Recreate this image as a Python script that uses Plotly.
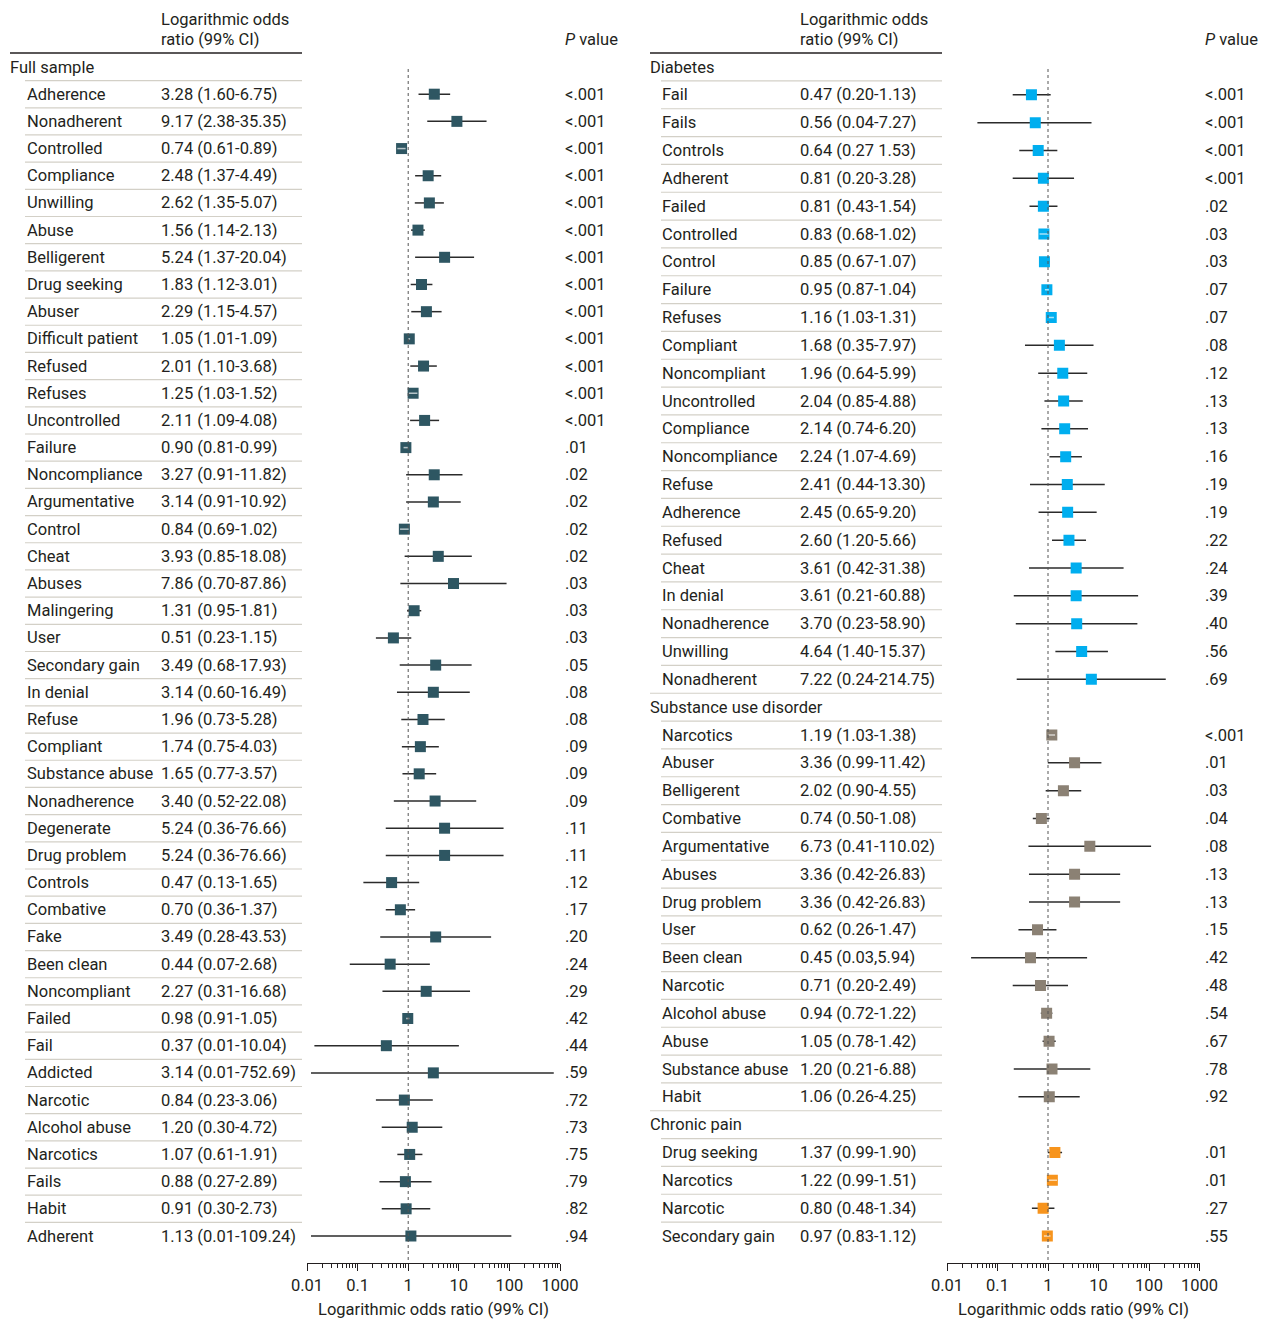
import math
import plotly.graph_objects as go

W, H = 1267, 1319
FONT = "Roboto"
FS = 16.5
TXT = "#231f20"

# ---------------- data ----------------
left_group = "Full sample"
left_labels = ["Adherence", "Nonadherent", "Controlled", "Compliance", "Unwilling", "Abuse", "Belligerent",
               "Drug seeking", "Abuser", "Difficult patient", "Refused", "Refuses", "Uncontrolled", "Failure",
               "Noncompliance", "Argumentative", "Control", "Cheat", "Abuses", "Malingering", "User",
               "Secondary gain", "In denial", "Refuse", "Compliant", "Substance abuse", "Nonadherence",
               "Degenerate", "Drug problem", "Controls", "Combative", "Fake", "Been clean", "Noncompliant",
               "Failed", "Fail", "Addicted", "Narcotic", "Alcohol abuse", "Narcotics", "Fails", "Habit", "Adherent"]
left_or = [3.28, 9.17, 0.74, 2.48, 2.62, 1.56, 5.24, 1.83, 2.29, 1.05, 2.01, 1.25, 2.11, 0.90, 3.27, 3.14, 0.84,
           3.93, 7.86, 1.31, 0.51, 3.49, 3.14, 1.96, 1.74, 1.65, 3.40, 5.24, 5.24, 0.47, 0.70, 3.49, 0.44, 2.27,
           0.98, 0.37, 3.14, 0.84, 1.20, 1.07, 0.88, 0.91, 1.13]
left_lo = [1.60, 2.38, 0.61, 1.37, 1.35, 1.14, 1.37, 1.12, 1.15, 1.01, 1.10, 1.03, 1.09, 0.81, 0.91, 0.91, 0.69,
           0.85, 0.70, 0.95, 0.23, 0.68, 0.60, 0.73, 0.75, 0.77, 0.52, 0.36, 0.36, 0.13, 0.36, 0.28, 0.07, 0.31,
           0.91, 0.014, 0.012, 0.23, 0.30, 0.61, 0.27, 0.30, 0.012]
left_hi = [6.75, 35.35, 0.89, 4.49, 5.07, 2.13, 20.04, 3.01, 4.57, 1.09, 3.68, 1.52, 4.08, 0.99, 11.82, 10.92, 1.02,
           18.08, 87.86, 1.81, 1.15, 17.93, 16.49, 5.28, 4.03, 3.57, 22.08, 76.66, 76.66, 1.65, 1.37, 43.53, 2.68,
           16.68, 1.05, 10.04, 752.69, 3.06, 4.72, 1.91, 2.89, 2.73, 109.24]
left_ci_text = ["3.28 (1.60-6.75)", "9.17 (2.38-35.35)", "0.74 (0.61-0.89)", "2.48 (1.37-4.49)", "2.62 (1.35-5.07)",
                "1.56 (1.14-2.13)", "5.24 (1.37-20.04)", "1.83 (1.12-3.01)", "2.29 (1.15-4.57)", "1.05 (1.01-1.09)",
                "2.01 (1.10-3.68)", "1.25 (1.03-1.52)", "2.11 (1.09-4.08)", "0.90 (0.81-0.99)", "3.27 (0.91-11.82)",
                "3.14 (0.91-10.92)", "0.84 (0.69-1.02)", "3.93 (0.85-18.08)", "7.86 (0.70-87.86)", "1.31 (0.95-1.81)",
                "0.51 (0.23-1.15)", "3.49 (0.68-17.93)", "3.14 (0.60-16.49)", "1.96 (0.73-5.28)", "1.74 (0.75-4.03)",
                "1.65 (0.77-3.57)", "3.40 (0.52-22.08)", "5.24 (0.36-76.66)", "5.24 (0.36-76.66)", "0.47 (0.13-1.65)",
                "0.70 (0.36-1.37)", "3.49 (0.28-43.53)", "0.44 (0.07-2.68)", "2.27 (0.31-16.68)", "0.98 (0.91-1.05)",
                "0.37 (0.01-10.04)", "3.14 (0.01-752.69)", "0.84 (0.23-3.06)", "1.20 (0.30-4.72)", "1.07 (0.61-1.91)",
                "0.88 (0.27-2.89)", "0.91 (0.30-2.73)", "1.13 (0.01-109.24)"]
left_p = ["<.001"] * 13 + [".01", ".02", ".02", ".02", ".02", ".03", ".03", ".03", ".05", ".08", ".08", ".09",
                           ".09", ".09", ".11", ".11", ".12", ".17", ".20", ".24", ".29", ".42", ".44", ".59",
                           ".72", ".73", ".75", ".79", ".82", ".94"]

right_groups = ["Diabetes", "Substance use disorder", "Chronic pain"]
right_colors = ["#00aeef", "#8b8174", "#f7941d"]

diab_labels = ["Fail", "Fails", "Controls", "Adherent", "Failed", "Controlled", "Control", "Failure", "Refuses",
               "Compliant", "Noncompliant", "Uncontrolled", "Compliance", "Noncompliance", "Refuse", "Adherence",
               "Refused", "Cheat", "In denial", "Nonadherence", "Unwilling", "Nonadherent"]
diab_or = [0.47, 0.56, 0.64, 0.81, 0.81, 0.83, 0.85, 0.95, 1.16, 1.68, 1.96, 2.04, 2.14, 2.24, 2.41, 2.45, 2.60,
           3.61, 3.61, 3.70, 4.64, 7.22]
diab_lo = [0.20, 0.04, 0.27, 0.20, 0.43, 0.68, 0.67, 0.87, 1.03, 0.35, 0.64, 0.85, 0.74, 1.07, 0.44, 0.65, 1.20,
           0.42, 0.21, 0.23, 1.40, 0.24]
diab_hi = [1.13, 7.27, 1.53, 3.28, 1.54, 1.02, 1.07, 1.04, 1.31, 7.97, 5.99, 4.88, 6.20, 4.69, 13.30, 9.20, 5.66,
           31.38, 60.88, 58.90, 15.37, 214.75]
diab_ci_text = ["0.47 (0.20-1.13)", "0.56 (0.04-7.27)", "0.64 (0.27 1.53)", "0.81 (0.20-3.28)", "0.81 (0.43-1.54)",
                "0.83 (0.68-1.02)", "0.85 (0.67-1.07)", "0.95 (0.87-1.04)", "1.16 (1.03-1.31)", "1.68 (0.35-7.97)",
                "1.96 (0.64-5.99)", "2.04 (0.85-4.88)", "2.14 (0.74-6.20)", "2.24 (1.07-4.69)", "2.41 (0.44-13.30)",
                "2.45 (0.65-9.20)", "2.60 (1.20-5.66)", "3.61 (0.42-31.38)", "3.61 (0.21-60.88)",
                "3.70 (0.23-58.90)", "4.64 (1.40-15.37)", "7.22 (0.24-214.75)"]
diab_p = ["<.001", "<.001", "<.001", "<.001", ".02", ".03", ".03", ".07", ".07", ".08", ".12", ".13", ".13", ".16",
          ".19", ".19", ".22", ".24", ".39", ".40", ".56", ".69"]

sud_labels = ["Narcotics", "Abuser", "Belligerent", "Combative", "Argumentative", "Abuses", "Drug problem", "User",
              "Been clean", "Narcotic", "Alcohol abuse", "Abuse", "Substance abuse", "Habit"]
sud_or = [1.19, 3.36, 2.02, 0.74, 6.73, 3.36, 3.36, 0.62, 0.45, 0.71, 0.94, 1.05, 1.20, 1.06]
sud_lo = [1.03, 0.99, 0.90, 0.50, 0.41, 0.42, 0.42, 0.26, 0.03, 0.20, 0.72, 0.78, 0.21, 0.26]
sud_hi = [1.38, 11.42, 4.55, 1.08, 110.02, 26.83, 26.83, 1.47, 5.94, 2.49, 1.22, 1.42, 6.88, 4.25]
sud_ci_text = ["1.19 (1.03-1.38)", "3.36 (0.99-11.42)", "2.02 (0.90-4.55)", "0.74 (0.50-1.08)",
               "6.73 (0.41-110.02)", "3.36 (0.42-26.83)", "3.36 (0.42-26.83)", "0.62 (0.26-1.47)",
               "0.45 (0.03,5.94)", "0.71 (0.20-2.49)", "0.94 (0.72-1.22)", "1.05 (0.78-1.42)",
               "1.20 (0.21-6.88)", "1.06 (0.26-4.25)"]
sud_p = ["<.001", ".01", ".03", ".04", ".08", ".13", ".13", ".15", ".42", ".48", ".54", ".67", ".78", ".92"]

cp_labels = ["Drug seeking", "Narcotics", "Narcotic", "Secondary gain"]
cp_or = [1.37, 1.22, 0.80, 0.97]
cp_lo = [0.99, 0.99, 0.48, 0.83]
cp_hi = [1.90, 1.51, 1.34, 1.12]
cp_ci_text = ["1.37 (0.99-1.90)", "1.22 (0.99-1.51)", "0.80 (0.48-1.34)", "0.97 (0.83-1.12)"]
cp_p = [".01", ".01", ".27", ".55"]

tick_vals = [0.01, 0.1, 1, 10, 100, 1000]
tick_text = ["0.01", "0.1", "1", "10", "100", "1000"]
axis_title = "Logarithmic odds ratio (99% CI)"
col_header = ["Logarithmic odds", "ratio (99% CI)"]
p_header = "<i>P</i> value"

# ---------------- layout helpers ----------------
def px(x):
    return x / W

def py(y):
    return 1 - y / H

TOP_ROW, LAST_ROW = 67, 1236
AX_TOP, AX_BOT = 69, 1263
ydom = [py(AX_BOT), 1.0]
TX_OFF = -2  # annotation inner padding compensation

fig = go.Figure()
annotations = []
shapes = []

panels = [
    dict(xa="x", ya="y", xdom=[px(307), px(560)],
         x_group=10, x_item=27, x_ci=161, x_p=565, line_x0=25, line_x1=302,
         groups=[(left_group, "#2e5662", left_labels, left_or, left_lo, left_hi, left_ci_text, left_p)]),
    dict(xa="x2", ya="y2", xdom=[px(947), px(1199.5)],
         x_group=650, x_item=662, x_ci=800, x_p=1205, line_x0=661, line_x1=942,
         groups=[(right_groups[0], right_colors[0], diab_labels, diab_or, diab_lo, diab_hi, diab_ci_text, diab_p),
                 (right_groups[1], right_colors[1], sud_labels, sud_or, sud_lo, sud_hi, sud_ci_text, sud_p),
                 (right_groups[2], right_colors[2], cp_labels, cp_or, cp_lo, cp_hi, cp_ci_text, cp_p)]),
]

MARKER = 11
PX_PER_DEC = 50.6

def tfont():
    return dict(family=FONT, size=FS, color=TXT)

def tx(x):
    return px(x + TX_OFF)

for pi, P in enumerate(panels):
    nrows = sum(1 + len(g[2]) for g in P["groups"])
    pitch = (LAST_ROW - TOP_ROW) / (nrows - 1)
    yr = [(AX_BOT - TOP_ROW) / pitch, (0 - TOP_ROW) / pitch]
    row = 0
    header_rows = []
    for (gname, color, labels, ors, los, his, cis, ps) in P["groups"]:
        header_rows.append(row)
        annotations.append(dict(x=tx(P["x_group"]), y=row, xref="paper", yref=P["ya"], text=gname,
                                showarrow=False, xanchor="left", yanchor="middle", font=tfont()))
        row += 1
        ys = list(range(row, row + len(labels)))
        lx, ly, wx, wy = [], [], [], []
        for o, lo, hi, yv in zip(ors, los, his, ys):
            lx += [lo, hi, None]
            ly += [yv, yv, None]
            if math.log10(hi / lo) * PX_PER_DEC < MARKER - 1:
                wx += [lo, hi, None]
                wy += [yv, yv, None]
        fig.add_trace(go.Scatter(x=lx, y=ly, mode="lines", xaxis=P["xa"], yaxis=P["ya"],
                                 line=dict(color="#2b2b2b", width=1.5), hoverinfo="skip", showlegend=False))
        fig.add_trace(go.Scatter(x=ors, y=ys, mode="markers", xaxis=P["xa"], yaxis=P["ya"],
                                 marker=dict(symbol="square", size=MARKER, color=color, line=dict(width=0)),
                                 showlegend=False))
        if wx:
            fig.add_trace(go.Scatter(x=wx, y=wy, mode="lines", xaxis=P["xa"], yaxis=P["ya"],
                                     line=dict(color="rgba(255,255,255,0.65)", width=1.5), hoverinfo="skip",
                                     showlegend=False))
        for lab, ci, pv, yv in zip(labels, cis, ps, ys):
            for xx, t in ((P["x_item"], lab), (P["x_ci"], ci), (P["x_p"], pv)):
                annotations.append(dict(x=tx(xx), y=yv, xref="paper", yref=P["ya"], text=t,
                                        showarrow=False, xanchor="left", yanchor="middle", font=tfont()))
        row += len(labels)
    # separators
    for r in range(nrows - 1):
        x0 = P["x_group"] if (r + 1) in header_rows else P["line_x0"]
        shapes.append(dict(type="line", xref="paper", yref=P["ya"], x0=px(x0), x1=px(P["line_x1"]),
                           y0=r + 0.5, y1=r + 0.5, line=dict(color="#d3d0c7", width=1.2)))
    # header
    annotations.append(dict(x=tx(P["x_ci"]), y=py(19), xref="paper", yref="paper", text=col_header[0],
                            showarrow=False, xanchor="left", yanchor="middle", font=tfont()))
    annotations.append(dict(x=tx(P["x_ci"]), y=py(40), xref="paper", yref="paper", text=col_header[1],
                            showarrow=False, xanchor="left", yanchor="middle", font=tfont()))
    annotations.append(dict(x=tx(P["x_p"]), y=py(40), xref="paper", yref="paper", text=p_header,
                            showarrow=False, xanchor="left", yanchor="middle", font=tfont()))
    shapes.append(dict(type="line", xref="paper", yref="paper", x0=px(P["x_group"]), x1=px(P["line_x1"]),
                       y0=py(53), y1=py(53), line=dict(color="#231f20", width=1.5)))
    # reference line at 1
    shapes.append(dict(type="line", xref=P["xa"], yref=P["ya"], x0=1, x1=1,
                       y0=(AX_TOP - TOP_ROW) / pitch, y1=(AX_BOT - TOP_ROW) / pitch,
                       line=dict(color="#555555", width=1, dash="dot")))
    # axis title
    annotations.append(dict(x=(P["xdom"][0] + P["xdom"][1]) / 2, y=py(1309), xref="paper", yref="paper",
                            text=axis_title, showarrow=False, xanchor="center", yanchor="middle", font=tfont()))

    minor_vals = [k * 10 ** e for e in range(-2, 3) for k in range(2, 10)]
    xkey = "xaxis" if pi == 0 else "xaxis2"
    ykey = "yaxis" if pi == 0 else "yaxis2"
    fig.layout[xkey] = dict(type="log", domain=P["xdom"], range=[-2, 3], anchor=P["ya"], automargin=False,
                            tickvals=tick_vals, ticktext=tick_text, ticks="outside", ticklen=7,
                            tickcolor="#231f20", tickwidth=1.2, showline=True, linecolor="#231f20",
                            linewidth=1.2, showgrid=False, zeroline=False, tickfont=tfont(),
                            minor=dict(tickvals=minor_vals, ticks="outside", ticklen=4,
                                       tickcolor="#231f20", tickwidth=1, showgrid=False))
    fig.layout[ykey] = dict(domain=ydom, range=yr, anchor=P["xa"], visible=False, showgrid=False,
                            zeroline=False, automargin=False)

fig.update_layout(width=W, height=H, margin=dict(l=0, r=0, t=0, b=0, autoexpand=False),
                  plot_bgcolor="white", paper_bgcolor="white", showlegend=False,
                  annotations=annotations, shapes=shapes, font=tfont())

fig.write_html("out.html", config={"displayModeBar": False},
               post_script="document.body.style.margin='0';document.body.style.overflow='hidden';")
